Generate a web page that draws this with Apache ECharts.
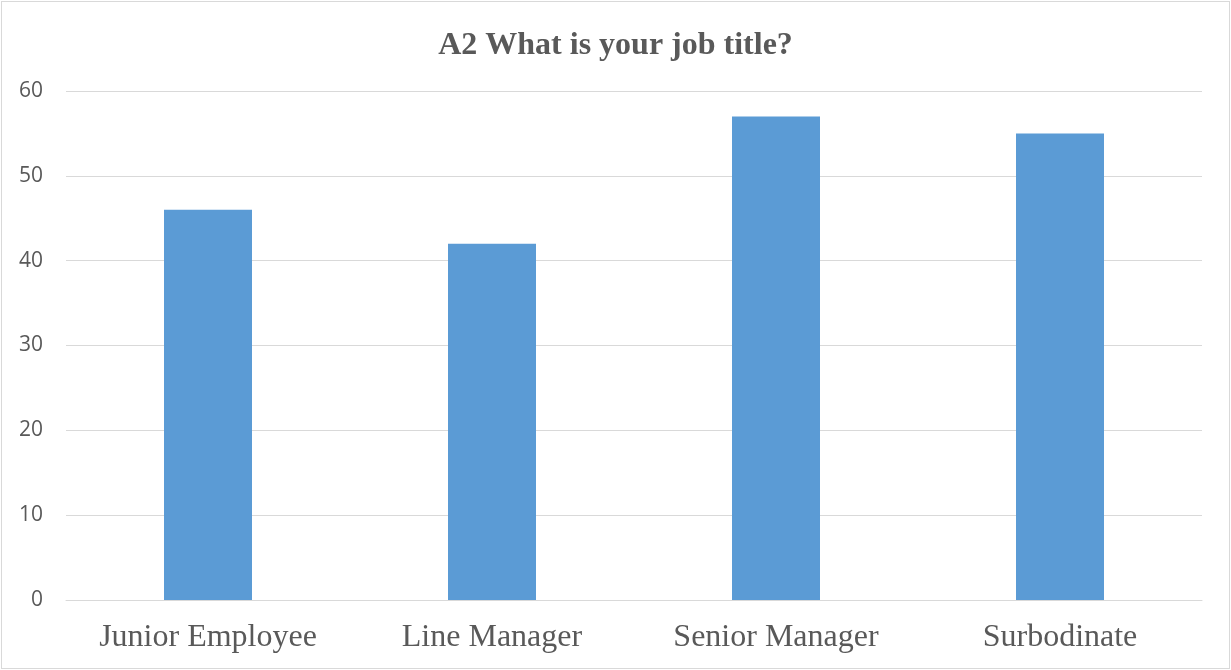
<!DOCTYPE html>
<html>
<head>
<meta charset="utf-8">
<script src="https://cdn.jsdelivr.net/npm/echarts@6/dist/echarts.min.js"></script>
<style>
html,body{margin:0;padding:0;background:#fff;}
#frame{position:absolute;left:1px;top:1px;width:1227px;height:666px;border:1px solid #d9d9d9;}
#chart{position:absolute;left:0;top:0;width:1231px;height:670px;}
</style>
</head>
<body>
<div id="frame"></div>
<div id="chart"></div>
<script>
const titleText = 'A2 What is your job title?';
const categories = ['Junior Employee', 'Line Manager', 'Senior Manager', 'Surbodinate'];
const values = [46, 42, 57, 55];
const yTicks = {min: 0, max: 60, interval: 10};

const chart = echarts.init(document.getElementById('chart'), null, {renderer: 'canvas'});
chart.setOption({
  animation: false,
  title: {
    text: titleText,
    left: 'center',
    top: 25,
    textStyle: {fontFamily: 'Liberation Serif', fontWeight: 'bold', fontSize: 32, color: '#595959'}
  },
  grid: {left: 66, right: 29, top: 91, bottom: 70, containLabel: false},
  xAxis: {
    type: 'category',
    data: categories,
    axisLine: {lineStyle: {color: '#d9d9d9', width: 1}},
    axisTick: {show: false},
    axisLabel: {fontFamily: 'Liberation Serif', fontSize: 32, color: '#595959', margin: 22}
  },
  yAxis: {
    type: 'value',
    min: yTicks.min, max: yTicks.max, interval: yTicks.interval,
    axisLine: {show: false},
    axisTick: {show: false},
    splitLine: {lineStyle: {color: '#d9d9d9', width: 1}},
    axisLabel: {fontFamily: 'Open Sans', fontSize: 21, color: '#595959', margin: 23}
  },
  series: [{
    type: 'bar',
    data: values,
    barWidth: 88,
    itemStyle: {color: '#5B9BD5'}
  }]
});
</script>
</body>
</html>
